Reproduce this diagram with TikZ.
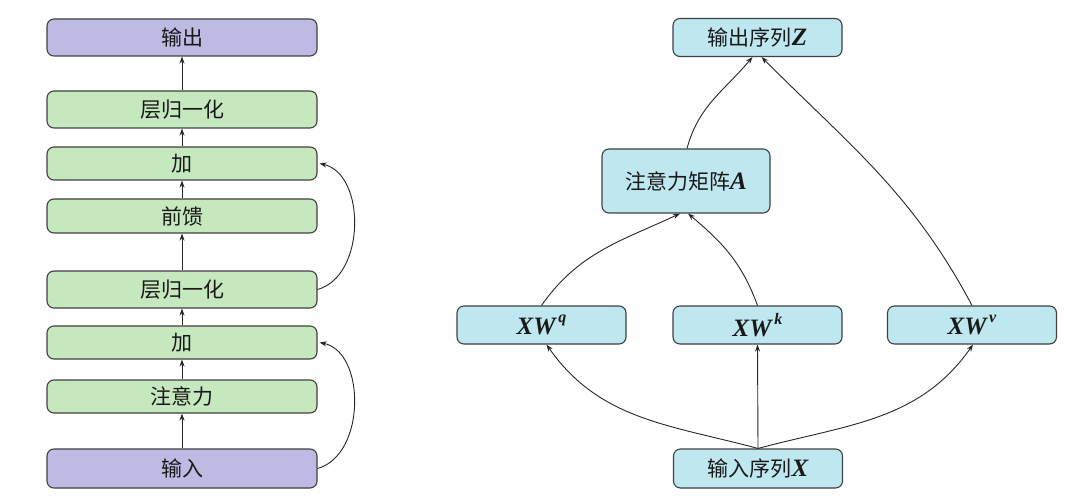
\documentclass[tikz,border=0pt]{standalone}
\usepackage{fontspec}
\setmainfont{Liberation Serif}
\newfontfamily\cjk{Noto Sans CJK SC}
\newfontfamily\tms{Liberation Serif}
\usetikzlibrary{arrows.meta,calc}
\definecolor{lav}{HTML}{BDBAE4}
\definecolor{grn}{HTML}{C6E8BF}
\definecolor{cyn}{HTML}{BEE7EF}
\definecolor{edge}{HTML}{404040}
\newcommand{\mi}[1]{{\tms\fontsize{25}{25}\selectfont\bfseries\itshape #1}}
\newcommand{\sps}[1]{\raisebox{1.1ex}{\tms\fontsize{16}{16}\selectfont\bfseries\itshape\,#1}}
\begin{document}
\begin{tikzpicture}[x=1pt,y=-1pt,
  box/.style={draw=edge,line width=1.1pt,rounded corners=7pt,inner sep=0pt,
    font=\fontsize{21}{24}\selectfont\cjk,text=black!90},
  lbox/.style={box,minimum width=270pt},
  rbox/.style={box,fill=cyn,minimum width=169pt,minimum height=38pt},
  arr/.style={-{Stealth[length=7pt,width=5pt]},line width=0.9pt,draw=black!85}]
\useasboundingbox (0,0) rectangle (1080,500);
% left stack
\node[lbox,fill=lav,minimum height=37pt] (out) at (182,37.5) {输出};
\node[lbox,fill=grn,minimum height=37pt] (ln2) at (182,109.5) {层归一化};
\node[lbox,fill=grn,minimum height=33pt] (add2) at (182,163.5) {加};
\node[lbox,fill=grn,minimum height=34pt] (ff) at (182,216) {前馈};
\node[lbox,fill=grn,minimum height=37pt] (ln1) at (182,289.5) {层归一化};
\node[lbox,fill=grn,minimum height=33pt] (add1) at (182,342.5) {加};
\node[lbox,fill=grn,minimum height=33pt] (att) at (182,396.5) {注意力};
\node[lbox,fill=lav,minimum height=39pt] (inp) at (182,468.5) {输入};
\draw[arr] (inp) -- (att);
\draw[arr] (att) -- (add1);
\draw[arr] (add1) -- (ln1);
\draw[arr] (ln1) -- (ff);
\draw[arr] (ff) -- (add2);
\draw[arr] (add2) -- (ln2);
\draw[arr] (ln2) -- (out);
\draw[arr] (inp.east) .. controls (366,455) and (366,352) .. ($(add1.east)+(2,0)$);
\draw[arr] (ln1.east) .. controls (366,276) and (366,174) .. ($(add2.east)+(2,0)$);
% right side
\node[rbox] (z) at (757.5,37.5) {输出序列\mi{Z}};
\node[rbox,minimum width=168pt,minimum height=64pt] (a) at (686,181) {注意力矩阵\mi{A}};
\node[rbox] (q) at (541.5,325) {\mi{XW}\sps{q}};
\node[rbox] (k) at (757.5,325) {\mi{XW}\sps{k}};
\node[rbox] (v) at (972,325) {\mi{XW}\sps{v}};
\node[rbox,minimum height=39pt] (x) at (758,468.5) {输入序列\mi{X}};
\draw[arr] (x.north) to[out=165,in=-55] ($(q.south)+(5,0)$);
\draw[arr] (x.north) -- (k.south);
\draw[arr] (x.north) to[out=15,in=-125] ($(v.south)+(1,0)$);
\draw[arr] (q.north) to[out=55,in=-155] ($(a.south)+(-6,0)$);
\draw[arr] (k.north) to[out=110,in=-40] ($(a.south)+(2,0)$);
\draw[arr] ($(a.north)+(1,0)$) to[out=75,in=-130] ($(z.south)+(-5,0)$);
\draw[arr] (v.north) to[out=118,in=-45] ($(z.south)+(4,0)$);
\end{tikzpicture}
\end{document}
